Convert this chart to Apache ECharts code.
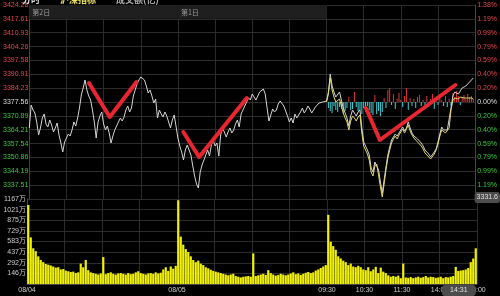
<!DOCTYPE html>
<html><head><meta charset="utf-8">
<script src="https://cdn.jsdelivr.net/npm/echarts@6/dist/echarts.min.js"></script>
<style>html,body{margin:0;padding:0;background:#000;}#c{width:500px;height:296px;}</style>
</head><body><div id="c"></div>
<script>
// ---------- data ----------
const dayTitles = ['第2日', '第1日'];
const headerTexts = ['分时', '沪深指标', '成交额(亿)'];
const timeTickIdx = [0, 80, 160, 180, 200, 220, 240];
const timeTickLabels = ['08/04', '08/05', '09:30', '10:30', '11:30', '14:00', '15:00'];
const priceTickLabels = ['', '3337.51', '3344.19', '3350.86', '3357.54', '3364.21', '3370.89', '3377.56',
  '3384.23', '3390.91', '3397.58', '3404.26', '3410.93', '3417.61', '3424.28'];
const pctTickLabels = ['', '1.19%', '0.99%', '0.79%', '0.59%', '0.40%', '0.20%', '0.00%',
  '0.20%', '0.40%', '0.59%', '0.79%', '0.99%', '1.19%', '1.38%'];
const volTickLabels = ['', '146万', '292万', '437万', '583万', '729万', '875万', '1021万', '1167万'];
const prevClose = 3377.56;
const priceMin = 3330.84, priceMax = 3424.28;
const volMax = 1167;
const crossPrice = 3331.6;
const crossTime = '14:31';

const priceDay1 = [3365.04,3376.11,3373.71,3372.26,3367.93,3361.67,3365.04,3369.85,3371.78,3366.96,
  3365.52,3368.89,3366.48,3363.11,3365.04,3367.44,3361.67,3357.81,3353.48,3358.29,
  3360.22,3362.15,3361.18,3364.07,3367.93,3366.00,3369.85,3374.67,3380.93,3384.30,
  3388.16,3383.34,3380.45,3378.52,3373.71,3367.93,3360.22,3367.93,3370.82,3372.74,
  3366.96,3364.07,3366.00,3362.63,3357.81,3361.18,3364.07,3366.00,3367.93,3369.85,
  3368.41,3370.33,3373.71,3375.63,3372.74,3374.67,3380.45,3383.34,3386.23,3388.16,
  3389.60,3390.56,3388.16,3385.27,3381.89,3383.34,3380.45,3377.08,3379.00,3369.85,
  3373.71,3371.78,3370.33,3372.74,3370.82,3371.78,3365.04,3368.89,3371.30,3372.26];
const priceDay2 = [3360.22,3356.37,3353.48,3349.62,3354.44,3356.85,3354.44,3352.03,3346.73,3341.92,
  3338.06,3336.14,3343.84,3347.22,3349.62,3352.03,3354.44,3351.55,3356.85,3359.26,
  3356.37,3357.81,3351.55,3361.67,3365.04,3363.11,3360.70,3363.11,3365.04,3362.63,
  3364.07,3366.96,3368.89,3365.52,3371.78,3373.71,3375.63,3377.56,3379.49,3378.52,
  3381.41,3379.97,3378.52,3380.45,3382.38,3383.34,3383.82,3381.41,3374.67,3368.41,
  3371.30,3374.19,3372.74,3373.71,3376.60,3378.04,3377.08,3375.63,3373.22,3370.82,
  3367.93,3369.85,3367.44,3371.78,3369.85,3368.89,3372.74,3374.67,3372.26,3373.71,
  3375.63,3374.19,3372.26,3373.71,3375.15,3376.11,3377.08,3376.60,3377.56,3377.56];
const priceDay3 = [3378.04,3382.38,3391.05,3385.27,3382.38,3379.97,3380.93,3382.38,3378.52,3374.67,
  3372.26,3369.85,3366.00,3370.82,3373.71,3372.26,3370.82,3372.74,3373.71,3365.04,
  3358.29,3356.37,3354.44,3352.03,3345.77,3343.84,3348.66,3349.62,3344.81,3339.03,
  3333.73,3339.99,3346.25,3352.03,3355.89,3359.26,3360.70,3362.15,3361.18,3362.63,
  3364.07,3365.52,3363.59,3365.04,3367.93,3365.04,3362.63,3361.18,3360.70,3359.74,
  3358.78,3357.81,3356.37,3354.44,3353.48,3352.51,3351.07,3351.55,3353.48,3354.92,
  3358.29,3362.15,3365.52,3364.07,3363.59,3364.07,3364.55,3374.67,3380.45,3382.38,
  3383.34,3381.41,3382.86,3384.30,3383.34,3385.27,3386.23,3387.19,3388.16,3389.12];
const yellowDay3 = [3377.56,3381.41,3389.12,3383.34,3379.97,3377.56,3378.04,3379.00,3375.63,3372.26,
  3369.85,3367.93,3364.07,3368.41,3370.82,3369.85,3368.41,3370.33,3371.30,3362.63,
  3356.37,3354.44,3352.51,3349.62,3343.84,3341.92,3346.73,3347.70,3342.40,3336.62,
  3331.80,3338.06,3344.81,3350.59,3354.44,3357.81,3359.74,3361.18,3359.74,3361.67,
  3363.11,3364.55,3362.63,3363.59,3366.48,3363.59,3361.67,3360.22,3359.74,3358.29,
  3357.33,3356.37,3354.92,3353.00,3352.03,3351.07,3350.11,3350.59,3352.51,3354.44,
  3357.33,3361.18,3364.07,3363.11,3362.63,3363.59,3365.04,3373.71,3378.52,3379.49,
  3379.97,3379.00,3379.97,3380.45,3379.49,3379.97,3379.49,3379.00,3379.49,3379.00];
const flowDay3 = [0,-6,-9,-11,-4,-8,-10,-5,-7,-11,-9,-6,5,-8,-7,10,-5,-9,-8,-12,
  -6,-10,-4,-8,-11,-13,7,-12,-9,-14,-10,4,-6,12,14,-3,8,-7,3,9,
  2,-5,6,14,-8,4,-4,3,-6,5,7,-4,2,-3,6,-5,3,8,-7,4,
  -3,5,2,-4,6,-5,3,-4,9,5,11,6,-3,4,7,3,8,5,6,3];
const volDay1 = [1085,640,490,450,380,330,300,275,265,255,240,225,230,200,205,185,175,165,170,150,
  160,280,230,330,190,160,150,140,130,145,370,135,150,160,140,130,145,150,140,130,
  150,135,140,160,175,150,140,130,145,150,140,160,145,155,200,230,180,240,210,250];
const volDay2 = [1150,650,540,480,440,380,330,300,320,280,260,230,215,195,180,170,160,150,140,130,
  120,130,140,110,100,90,100,105,110,100,420,110,120,130,140,125,190,150,130,115,
  125,140,130,120,130,145,160,135,145,125,140,155,165,150,160,185,200,220,240,260];
const volDay3 = [950,580,520,470,380,350,320,300,260,280,240,230,250,230,200,190,230,175,200,235,
  150,225,170,150,120,100,110,100,115,80,280,90,85,95,80,90,100,85,95,110,
  90,100,95,85,90,100,80,95,90,100,110,235,180,185,190,200,220,300,350,490];
const markV1 = [[32.1, 3386.71], [43.3, 3370.33], [57.7, 3387.19]];
const markV2 = [[82.9, 3363.11], [91.4, 3351.07], [117.1, 3379.49]];
const markV3 = [[181.2, 3374.67], [188.7, 3359.26], [229.3, 3385.75]];

// ---------- build ----------
const PER_DAY = 80;
const priceAll = priceDay1.concat(priceDay2, priceDay3);
const volAll = volDay1.concat(volDay2, volDay3);
const priceStep = (priceMax - priceMin) / 14;
const volStep = volMax / 8;
const tIdx = (function (t) { const p = t.split(':').map(Number); let m = p[0] * 60 + p[1];
  m = m >= 13 * 60 ? (m - 13 * 60) + 120 : m - (9 * 60 + 30); return 2 * PER_DAY + m / 3; })(crossTime);

const font = 'Liberation Sans, Arial, Noto Sans CJK SC';
const gridCol = '#2c2c2c';
const RED = '#e5474a', GREEN = '#3cc83c', WHITE = '#dddddd';

function kOf(v, min, step) { return Math.round((v - min) / step); }
function priceColor(v) { const k = kOf(v, priceMin, priceStep); return k > 7 ? RED : (k === 7 ? WHITE : GREEN); }

const option = {
  animation: false,
  backgroundColor: '#000',
  title: {
    left: 22, top: -9, padding: 0,
    text: '{a|' + headerTexts[0] + '}    {b|' + headerTexts[1] + '}    {c|' + headerTexts[2] + '}',
    textStyle: { rich: {
      a: { color: '#ddd', fontSize: 9, fontFamily: 'Noto Sans CJK SC' },
      b: { color: '#e8e060', fontSize: 9, fontFamily: 'Noto Sans CJK SC' },
      c: { color: '#aaa', fontSize: 9, fontFamily: 'Noto Sans CJK SC' } } }
  },
  grid: [
    { left: 27, right: 23, top: 5, height: 194, containLabel: false },
    { left: 27, right: 23, top: 199, height: 85, containLabel: false }
  ],
  xAxis: [
    { gridIndex: 0, type: 'value', min: 0, max: 240, interval: 20,
      axisLabel: { show: false }, axisTick: { show: false }, axisLine: { show: false },
      splitLine: { show: true, lineStyle: { color: gridCol, width: 1 } } },
    { gridIndex: 1, type: 'value', min: 0, max: 240, interval: 20,
      axisTick: { show: false }, axisLine: { show: true, lineStyle: { color: '#444' } },
      splitLine: { show: true, lineStyle: { color: gridCol, width: 1 } },
      axisLabel: { color: '#cccccc', fontSize: 7, fontFamily: font, margin: 3, showMinLabel: true, showMaxLabel: true, hideOverlap: false,
        formatter: function (v) { const j = timeTickIdx.indexOf(Math.round(v)); return j >= 0 ? timeTickLabels[j] : ''; } },
      axisPointer: { show: true, type: 'line', value: tIdx, status: 'show', lineStyle: { opacity: 0 },
        label: { show: true, backgroundColor: '#4c4c4c', color: '#e0e0e0', fontSize: 7, fontFamily: font, padding: [2, 8, 2, 8], margin: 2,
          formatter: function () { return crossTime; } } } },
    { gridIndex: 1, type: 'category', data: volAll.map(function (_, i) { return String(i); }), show: false, boundaryGap: true }
  ],
  yAxis: [
    { gridIndex: 0, type: 'value', position: 'left', min: priceMin, max: priceMax, interval: priceStep,
      axisLine: { show: true, lineStyle: { color: '#444' } }, axisTick: { show: false },
      splitLine: { show: true, lineStyle: { color: gridCol, width: 1 } },
      axisLabel: { fontSize: 7, fontFamily: font, margin: 1, showMinLabel: true, showMaxLabel: true,
        formatter: function (v) { return priceTickLabels[kOf(v, priceMin, priceStep)] || ''; },
        color: function (v) { return priceColor(v); } } },
    { gridIndex: 0, type: 'value', position: 'right', min: priceMin, max: priceMax, interval: priceStep,
      axisLine: { show: true, lineStyle: { color: '#444' } }, axisTick: { show: false }, splitLine: { show: false },
      axisLabel: { fontSize: 7, fontFamily: font, margin: 2, showMinLabel: true, showMaxLabel: true,
        formatter: function (v) { return pctTickLabels[kOf(v, priceMin, priceStep)] || ''; },
        color: function (v) { return priceColor(v); } },
      axisPointer: { show: true, type: 'line', value: crossPrice, status: 'show', lineStyle: { opacity: 0 },
        label: { show: true, backgroundColor: '#4c4c4c', color: '#e0e0e0', fontSize: 7, fontFamily: font, padding: [2, 2, 2, 2], margin: 1,
          formatter: function (p) { return String(p.value.toFixed ? p.value.toFixed(1) : p.value); } } } },
    { gridIndex: 0, type: 'value', min: -97, max: 97, show: false },
    { gridIndex: 1, type: 'value', min: 0, max: volMax, interval: volStep,
      axisLine: { show: true, lineStyle: { color: '#444' } }, axisTick: { show: false },
      splitLine: { show: true, lineStyle: { color: gridCol, width: 1 } },
      axisLabel: { fontSize: 7, fontFamily: font, color: '#cccccc', margin: 1, showMaxLabel: true,
        formatter: function (v) { return volTickLabels[kOf(v, 0, volStep)] || ''; } } }
  ],
  series: [
    { type: 'line', xAxisIndex: 0, yAxisIndex: 0, symbol: 'none', z: 3,
      data: priceAll.map(function (v, i) { return [i, v]; }),
      lineStyle: { color: '#d4d4d4', width: 1 },
      markArea: { silent: true, itemStyle: { color: '#1f1f1f' },
        label: { show: true, position: 'insideLeft', color: '#9a9a9a', fontSize: 7, fontFamily: 'Noto Sans CJK SC', distance: 3 },
        data: [
          [{ name: dayTitles[0], xAxis: 0, yAxis: priceMax - priceStep }, { xAxis: PER_DAY, yAxis: priceMax }],
          [{ name: dayTitles[1], xAxis: PER_DAY, yAxis: priceMax - priceStep }, { xAxis: 2 * PER_DAY, yAxis: priceMax }]
        ] } },
    { type: 'bar', xAxisIndex: 0, yAxisIndex: 2, barWidth: 1, z: 2,
      data: flowDay3.map(function (v, j) { return [2 * PER_DAY + j, v]; }),
      itemStyle: { color: function (p) { return p.value[1] >= 0 ? '#e0363a' : '#3fd0d6'; } } },
    { type: 'line', xAxisIndex: 0, yAxisIndex: 0, symbol: 'none', z: 4,
      data: yellowDay3.map(function (v, j) { return [2 * PER_DAY + j, v]; }),
      lineStyle: { color: '#e2d86a', width: 1 } },
    { type: 'line', xAxisIndex: 0, yAxisIndex: 0, symbol: 'none', z: 6, data: markV1,
      lineStyle: { color: '#e8262f', width: 4, cap: 'round', join: 'round' } },
    { type: 'line', xAxisIndex: 0, yAxisIndex: 0, symbol: 'none', z: 6, data: markV2,
      lineStyle: { color: '#e8262f', width: 4, cap: 'round', join: 'round' } },
    { type: 'line', xAxisIndex: 0, yAxisIndex: 0, symbol: 'none', z: 6, data: markV3,
      lineStyle: { color: '#e8262f', width: 4, cap: 'round', join: 'round' } },
    { type: 'bar', xAxisIndex: 2, yAxisIndex: 3, barCategoryGap: '12%', z: 2,
      data: volAll, itemStyle: { color: '#f2f200' } }
  ]
};
const chart = echarts.init(document.getElementById('c'));
chart.setOption(option);
</script></body></html>
